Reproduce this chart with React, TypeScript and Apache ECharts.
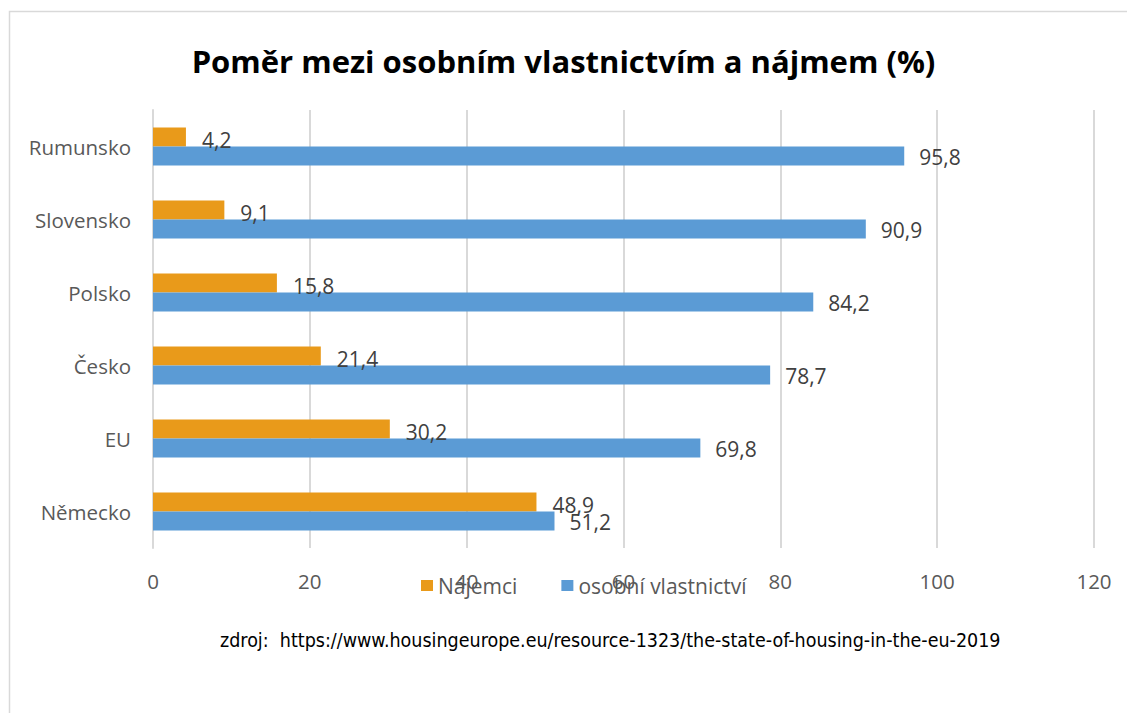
import React, { useEffect, useRef } from "react";
import * as echarts from "echarts";

const categories = ["Německo", "EU", "Česko", "Polsko", "Slovensko", "Rumunsko"];
const najemci = [48.9, 30.2, 21.4, 15.8, 9.1, 4.2];
const vlastnictvi = [51.2, 69.8, 78.7, 84.2, 90.9, 95.8];
const xTicks = [0, 20, 40, 60, 80, 100, 120];
const titleText = "Poměr mezi osobním vlastnictvím a nájmem (%)";
const sourceText = "zdroj:  https://www.housingeurope.eu/resource-1323/the-state-of-housing-in-the-eu-2019";

const fmt = (v: number) => String(v).replace(".", ",");

export default function App() {
  const ref = useRef<HTMLDivElement>(null);
  useEffect(() => {
    if (!ref.current) return;
    const chart = echarts.init(ref.current, undefined, { renderer: "svg" });
    const font = "'Open Sans', 'Noto Sans', sans-serif";
    chart.setOption({
      animation: false,
      backgroundColor: "#ffffff",
      title: {
        text: titleText,
        left: "center",
        top: 40,
        textStyle: { fontSize: 31, fontWeight: "bold", color: "#000000", fontFamily: font },
      },
      legend: {
        data: ["Nájemci", "osobní vlastnictví"],
        top: 570,
        left: 416,
        itemWidth: 12,
        itemHeight: 11,
        itemGap: 44,
        icon: "rect",
        textStyle: { fontSize: 21, color: "#595959", fontFamily: font },
      },
      grid: { left: 153, right: 33, top: 110, bottom: 165, containLabel: false },
      xAxis: {
        type: "value",
        min: 0,
        max: 120,
        interval: 20,
        axisLine: { show: false },
        axisTick: { show: false },
        splitLine: { lineStyle: { color: "#d9d9d9", width: 2 } },
        axisLabel: { fontSize: 20.5, color: "#595959", fontFamily: font, margin: 22,
          formatter: (v: number) => (xTicks.includes(v) ? String(v) : "") },
      },
      yAxis: {
        type: "category",
        data: categories,
        axisLine: { show: true, lineStyle: { color: "#d9d9d9", width: 2 } },
        axisTick: { show: false },
        axisLabel: { fontSize: 20.5, color: "#595959", fontFamily: font, margin: 22 },
      },
      series: [
        {
          name: "Nájemci",
          type: "bar",
          data: najemci,
          barWidth: 19,
          barGap: "0%",
          itemStyle: { color: "#E99A1A" },
          label: { show: true, position: "right", distance: 16, offset: [0, 3], fontSize: 21, color: "#404040", fontFamily: font, formatter: (p: any) => fmt(p.value) },
        },
        {
          name: "osobní vlastnictví",
          type: "bar",
          data: vlastnictvi,
          barWidth: 19,
          barGap: "0%",
          itemStyle: { color: "#5B9BD5" },
          label: { show: true, position: "right", distance: 15, offset: [0, 1], fontSize: 21, color: "#404040", fontFamily: font, formatter: (p: any) => fmt(p.value) },
        },
      ],
      graphic: [
        {
          type: "rect",
          shape: { x: 9.5, y: 11.5, width: 1300, height: 900 },
          style: { fill: "none", stroke: "#d9d9d9", lineWidth: 1.5 },
          silent: true,
        },
        {
          type: "text",
          left: 220,
          top: 630,
          style: { text: sourceText, fontSize: 19.5, fill: "#000000", fontFamily: "'Liberation Sans Narrow', 'DejaVu Sans Condensed', sans-serif" },
        },
      ],
    });
    return () => chart.dispose();
  }, []);
  return <div ref={ref} style={{ position: "fixed", left: 0, top: 0, width: 1127, height: 713 }} />;
}
